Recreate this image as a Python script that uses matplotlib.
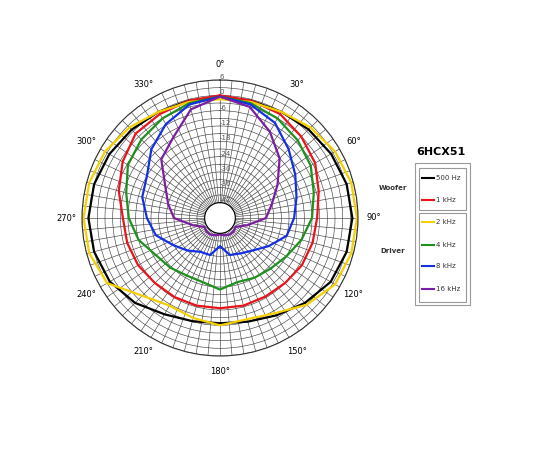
import numpy as np
import matplotlib.pyplot as plt
from matplotlib.lines import Line2D
from matplotlib.patches import Rectangle

angles = list(range(0, 360, 15))
# dB levels, 0..345 deg clockwise from top
black = [-0.5, -0.5, 0.0, 1.0, 2.2, 3.3, 3.8, 3.3, 2.0, -1.0, -4.0, -6.0, -6.8,
         -6.2, -4.5, -1.0, 1.8, 3.0, 3.5, 3.0, 2.0, 0.9, 0.0, -0.5]
red = [0.0, -0.5, -1.0, -3.0, -5.0, -8.0, -10.0, -10.5, -11.0, -12.0, -12.5, -12.5, -12.7,
       -12.5, -12.3, -12.0, -11.0, -10.4, -10.0, -7.0, -4.0, -1.3, -1.0, -0.5]
yellow = [-1.5, -1.0, 0.0, 2.1, 4.0, 5.2, 5.6, 5.2, 4.0, 0.0, -5.0, -7.0, -6.0,
          -7.5, -8.4, -5.0, 3.0, 5.0, 5.4, 5.0, 4.0, 2.1, 0.0, -1.0]
green = [-0.5, -1.5, -3.0, -5.0, -7.0, -10.0, -12.0, -15.0, -18.0, -20.0, -21.0, -22.0, -20.0,
         -22.0, -22.0, -20.5, -19.0, -15.0, -12.3, -10.0, -6.4, -4.5, -3.0, -1.5]
blue = [-0.5, -2.0, -5.0, -10.0, -14.0, -17.0, -19.0, -21.0, -26.0, -30.0, -32.0, -33.0, -37.0,
        -33.0, -32.7, -30.0, -26.8, -22.0, -19.4, -16.5, -15.0, -10.0, -5.6, -2.0]
purple = [-0.5, -3.0, -9.0, -15.0, -22.0, -27.0, -30.0, -37.0, -41.0, -40.5, -40.5, -41.0, -41.5,
          -41.0, -40.5, -40.5, -41.0, -37.0, -30.0, -27.0, -23.3, -15.5, -11.5, -4.0]

series = [("500 Hz", black, "black"), ("1 kHz", red, "#e8141b"),
          ("2 kHz", yellow, "#f5d000"), ("4 kHz", green, "#1f8f1f"),
          ("8 kHz", blue, "#1530e0"), ("16 kHz", purple, "#7a1fa0")]

fig = plt.figure(figsize=(5.5, 4.5), dpi=100)
ax = fig.add_axes([(220-138)/550, (450-356)/450, 276/550, 276/450], projection="polar")
ax.set_theta_zero_location("N")
ax.set_theta_direction(-1)
ax.set_ylim(-42, 6)
ax.set_rorigin(-48)

th = np.deg2rad(angles + [360])
for name, vals, col in series:
    ax.plot(th, vals + [vals[0]], color=col, lw=1.6)

ax.set_thetagrids(range(0, 360, 5),
                  [f"{a}°" if a % 30 == 0 else "" for a in range(0, 360, 5)],
                  fontsize=6)
ax.tick_params(axis="x", pad=1)
rt = list(range(-42, 7, 3))
ax.set_rgrids(rt, [str(r) if r % 6 == 0 else "" for r in rt], angle=0, fontsize=5, color="#555")
ax.grid(color="#444", lw=0.45)
ax.spines["polar"].set_color("#333")

fig.text(0.802, 0.655, "6HCX51", fontsize=8, fontweight="bold", ha="center")
fig.patches.append(Rectangle((415/550, 1-305/450), 55/550, 142/450, transform=fig.transFigure,
                             fill=False, ec="#999", lw=0.8))
fig.patches.append(Rectangle((419/550, 1-210/450), 47/550, 42/450, transform=fig.transFigure,
                             fill=False, ec="#999", lw=0.8))
fig.patches.append(Rectangle((419/550, 1-302/450), 47/550, 89/450, transform=fig.transFigure,
                             fill=False, ec="#999", lw=0.8))
fig.text(393/550, 1-190/450, "Woofer", fontsize=5, ha="center", fontweight="bold", color="#333")
fig.text(393/550, 1-253/450, "Driver", fontsize=5, ha="center", fontweight="bold", color="#333")
ys = [178, 200, 222, 245, 266, 289]
for (name, vals, col), y in zip(series, ys):
    fig.lines.append(Line2D([422/550, 434/550], [1-y/450]*2, color=col, lw=1.5,
                            transform=fig.transFigure))
    fig.text(436/550, 1-y/450, name, fontsize=5, va="center", color="#333")

fig.savefig("out.png", dpi=100)
